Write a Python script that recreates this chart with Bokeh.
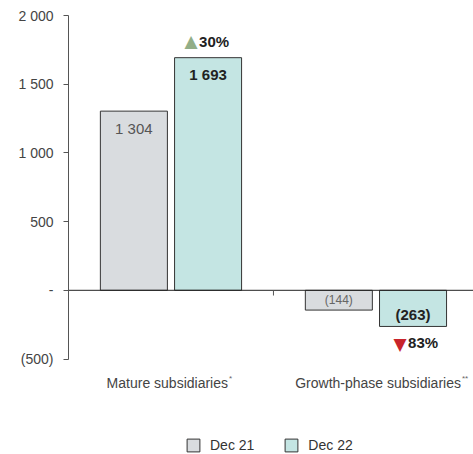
from bokeh.plotting import figure
from bokeh.models import (Range1d, FixedTicker, LinearAxis, Legend, LegendItem,
                          ColumnDataSource)
from bokeh.core.properties import value
from bokeh.embed import file_html
from bokeh.resources import INLINE

# Data
categories = ["Mature subsidiaries", "Growth-phase subsidiaries"]
footnotes = ["*", "**"]
dec21 = [1304, -144]
dec22 = [1693, -263]
change_pct = [30, -83]
y_ticks = [-500, 0, 500, 1000, 1500, 2000]

FONT = "Liberation Sans"
GREY = "#d9dcdf"
TEAL = "#c4e5e3"
EDGE = "#333333"


def fmt(v):
    s = f"{abs(v):,}".replace(",", " ")
    return f"({s})" if v < 0 else s


centers = [0.5 + i for i in range(len(categories))]
off = 0.181
bw = 0.327
# right edge of each category name, in pixels from the category centre
name_ends = [57, 85]

# frame spans the full height; the y axis is bounded to its tick range
p = figure(width=473, height=454, output_backend="svg", toolbar_location=None,
           x_range=Range1d(0, 1.976), y_range=Range1d(-1195, 2000),
           min_border_left=68, min_border_right=0, min_border_top=15,
           min_border_bottom=0, x_axis_location=None, y_axis_location=None)
p.outline_line_color = None
p.grid.visible = False
p.background_fill_color = "white"

src21 = ColumnDataSource(dict(x=[c - off for c in centers], top=dec21))
src22 = ColumnDataSource(dict(x=[c + off for c in centers], top=dec22))

r21 = p.vbar(x="x", top="top", bottom=0, width=bw, source=src21,
             fill_color=GREY, line_color=EDGE, line_width=1)
r22 = p.vbar(x="x", top="top", bottom=0, width=bw, source=src22,
             fill_color=TEAL, line_color=EDGE, line_width=1)

# zero line and category divider tick
p.segment(x0=[0], y0=[0], x1=[1.976], y1=[0], line_color="#222222", line_width=1)
p.segment(x0=[1.0], y0=[0], x1=[1.0], y1=[-38], line_color="#555555", line_width=1)

# value labels
p.text(x=[src21.data["x"][0]], y=[dec21[0]], text=[fmt(dec21[0])], text_align="center",
       text_baseline="top", y_offset=9, text_font=value(FONT), text_font_size="15px",
       text_color="#555555")
p.text(x=[src22.data["x"][0]], y=[dec22[0]], text=[fmt(dec22[0])], text_align="center",
       text_baseline="top", y_offset=8, text_font=value(FONT), text_font_size="15px",
       text_font_style="bold", text_color="#222222")
p.text(x=[src21.data["x"][1]], y=[dec21[1] / 2], text=[fmt(dec21[1])], text_align="center",
       text_baseline="middle", text_font=value(FONT), text_font_size="12px",
       text_color="#666666")
p.text(x=[src22.data["x"][1]], y=[dec22[1]], text=[fmt(dec22[1])], text_align="center",
       text_baseline="bottom", y_offset=-3, text_font=value(FONT), text_font_size="15px",
       text_font_style="bold", text_color="#222222")

# percentage change markers
up_x = src22.data["x"][0]
p.text(x=[up_x], y=[dec22[0]], text=["\u25b2"], text_align="center",
       text_baseline="bottom", y_offset=-7, x_offset=-17, text_font=value("DejaVu Sans"),
       text_font_size="17px", text_color="#92ae88")
p.text(x=[up_x], y=[dec22[0]], text=[f"{abs(change_pct[0])}%"], text_align="left",
       text_baseline="bottom", y_offset=-8, x_offset=-9, text_font=value(FONT),
       text_font_size="15px", text_font_style="bold", text_color="#222222")
dn_x = src22.data["x"][1]
p.text(x=[dn_x], y=[dec22[1]], text=["\u25bc"], text_align="center",
       text_baseline="top", y_offset=8, x_offset=-13, text_font=value("DejaVu Sans"),
       text_font_size="17px", text_color="#c8242b")
p.text(x=[dn_x], y=[dec22[1]], text=[f"{abs(change_pct[1])}%"], text_align="left",
       text_baseline="top", y_offset=8, x_offset=-5, text_font=value(FONT),
       text_font_size="15px", text_font_style="bold", text_color="#222222")

# category names under the chart, with small raised footnote marks
for c, name, note, end in zip(centers, categories, footnotes, name_ends):
    p.text(x=[c], y=[-500], text=[name], text_align="right", x_offset=end,
           text_baseline="top", y_offset=16, text_font=value(FONT),
           text_font_size="14px", text_color="#444444")
    p.text(x=[c], y=[-500], text=[note], text_align="left", x_offset=end + 1,
           text_baseline="top", y_offset=15, text_font=value(FONT),
           text_font_size="8px", text_color="#666666")

# y axis
yax = LinearAxis(ticker=FixedTicker(ticks=y_ticks), bounds=(-500, 2000))
yax.major_label_overrides = {t: ("-" if t == 0 else fmt(t)) for t in y_ticks}
yax.axis_line_color = "#555555"
yax.major_tick_line_color = "#555555"
yax.major_tick_in = 0
yax.major_tick_out = 5
yax.minor_tick_line_color = None
yax.major_label_text_font = FONT
yax.major_label_text_font_size = "14px"
yax.major_label_text_color = "#444444"
yax.major_label_standoff = 10
p.add_layout(yax, "left")

legend = Legend(items=[LegendItem(label="Dec 21", renderers=[r21]),
                       LegendItem(label="Dec 22", renderers=[r22])],
                orientation="horizontal", location=(117, 1),
                glyph_width=16, glyph_height=16, label_standoff=9, spacing=29,
                padding=0, margin=0, border_line_color=None,
                background_fill_alpha=0, label_text_font=FONT,
                label_text_font_size="14px", label_text_color="#333333")
p.add_layout(legend, "center")

open("out.html", "w").write(file_html(p, INLINE))
